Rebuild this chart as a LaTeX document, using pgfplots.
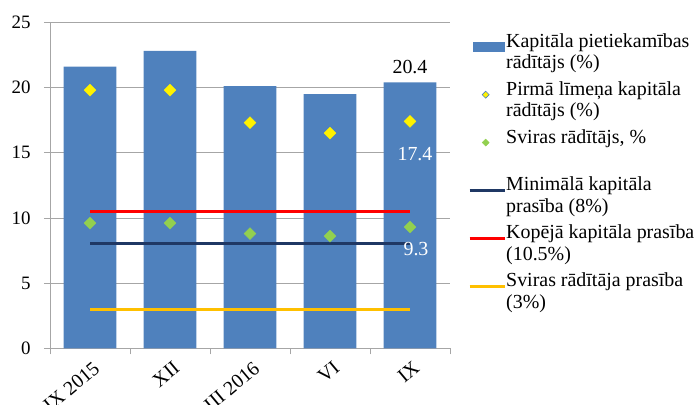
\documentclass[border=0pt]{standalone}
\usepackage{fontspec}
\setmainfont{Liberation Serif}
\usepackage{pgfplots}
\pgfplotsset{compat=1.18}
\definecolor{barblue}{HTML}{4F81BD}
\definecolor{navyline}{HTML}{1F3864}
\definecolor{lgreen}{HTML}{92D050}
\definecolor{gold}{HTML}{FFC000}
\definecolor{axgray}{HTML}{A6A6A6}
\begin{document}
\begin{tikzpicture}
\useasboundingbox (0,0) rectangle (698bp,405bp);
\begin{axis}[
  at={(50bp,56.7bp)}, anchor=south west,
  scale only axis, width=400bp, height=326bp,
  xmin=-0.5, xmax=4.5, ymin=0, ymax=25,
  axis x line*=bottom, axis y line*=left,
  axis line style={draw=axgray, line width=0.8pt},
  xtick={0,...,4}, xticklabels={IX 2015,XII,III 2016,VI,IX},
  minor xtick={-0.5,0.5,...,4.5},
  ytick={0,5,...,25},
  major x tick style={draw=none},
  minor x tick style={draw=axgray, line width=0.8pt},
  y tick style={draw=axgray, line width=0.8pt},
  tick align=outside,
  major tick length=6bp, minor tick length=6bp,
  ymajorgrids, grid style={draw=axgray, line width=0.8pt},
  xticklabel style={rotate=40, anchor=north east, font=\fontsize{20}{22}\selectfont, inner sep=2bp, yshift=-4bp},
  yticklabel style={font=\fontsize{19}{21}\selectfont, xshift=-10bp},
  /pgf/number format/assume math mode=true,
  legend style={at={(1.045,0.976)}, anchor=north west, draw=none, fill=none, inner sep=0pt,
    font=\fontsize{20}{21.6}\selectfont, row sep=5.8bp, column sep=-2bp,
    cells={anchor=base west, align=left, inner ysep=0pt, inner xsep=0pt}},
  legend cell align=left,
]
\addplot[ybar, bar width=0.66, fill=barblue, draw=none,
  legend image code/.code={\fill[barblue] (3bp,-1bp) rectangle (35bp,9bp);}]
  coordinates {(0,21.6) (1,22.8) (2,20.1) (3,19.5) (4,20.4)};
\addlegendentry{{\strut Kapitāla pietiekamības\\\strut rādītājs (\%)}}
\addplot[only marks, mark=square*, mark size=4.2bp, mark options={rotate=45, fill=yellow, draw=yellow},
  legend image code/.code={\draw[draw=barblue, fill=yellow, line width=0.6pt] (16bp,1bp) -- (19.5bp,4.5bp) -- (16bp,8bp) -- (12.5bp,4.5bp) -- cycle;}]
  coordinates {(0,19.8) (1,19.8) (2,17.3) (3,16.5) (4,17.4)};
\addlegendentry{{\strut Pirmā līmeņa kapitāla\\\strut rādītājs (\%)}}
\addplot[only marks, mark=square*, mark size=4.2bp, mark options={rotate=45, fill=lgreen, draw=lgreen},
  legend image code/.code={\fill[lgreen] (16bp,1bp) -- (19.5bp,4.5bp) -- (16bp,8bp) -- (12.5bp,4.5bp) -- cycle;}]
  coordinates {(0,9.6) (1,9.6) (2,8.8) (3,8.6) (4,9.3)};
\addlegendentry{{\strut Sviras rādītājs, \%\\\strut}}
\addplot[navyline, line width=3bp,
  legend image code/.code={\draw[navyline, line width=3bp] (0bp,4bp) -- (35bp,4bp);}]
  coordinates {(0,8) (4,8)};
\addlegendentry{{\strut Minimālā kapitāla\\\strut prasība (8\%)}}
\addplot[red, line width=3bp,
  legend image code/.code={\draw[red, line width=3bp] (0bp,4bp) -- (35bp,4bp);}]
  coordinates {(0,10.5) (4,10.5)};
\addlegendentry{{\strut Kopējā kapitāla prasība\\\strut (10.5\%)}}
\addplot[gold, line width=3bp,
  legend image code/.code={\draw[gold, line width=3bp] (0bp,4bp) -- (35bp,4bp);}]
  coordinates {(0,3) (4,3)};
\addlegendentry{{\strut Sviras rādītāja prasība\\\strut (3\%)}}
% data labels
\addplot[draw=none, mark=none, forget plot, nodes near coords,
  every node near coord/.append style={font=\fontsize{20}{22}\selectfont, black, anchor=center, yshift=15.6bp}]
  coordinates {(4,20.4)};
\addplot[draw=none, mark=none, forget plot, nodes near coords,
  every node near coord/.append style={font=\fontsize{20}{22}\selectfont, white, anchor=center, yshift=-32.6bp, xshift=5bp}]
  coordinates {(4,17.4)};
\addplot[draw=none, mark=none, forget plot, nodes near coords,
  every node near coord/.append style={font=\fontsize{20}{22}\selectfont, white, anchor=center, yshift=-22.3bp, xshift=6bp}]
  coordinates {(4,9.3)};
\end{axis}
\end{tikzpicture}
\end{document}
